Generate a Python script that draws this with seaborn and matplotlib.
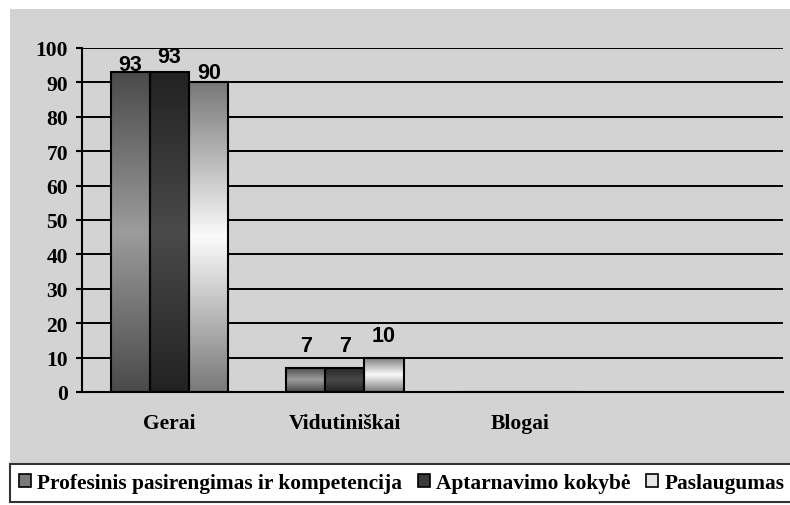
import numpy as np
import pandas as pd
import matplotlib
matplotlib.use("Agg")
import matplotlib.pyplot as plt
import seaborn as sns
from matplotlib.colors import LinearSegmentedColormap
from matplotlib.patches import Rectangle, Patch

categories = ["Gerai", "Vidutiniškai", "Blogai"]
series = ["Profesinis pasirengimas ir kompetencija", "Aptarnavimo kokybė", "Paslaugumas"]
profesinis = [93, 7, 0]
aptarnavimas = [93, 7, 0]
paslaugumas = [90, 10, 0]
y_ticks = list(range(0, 101, 10))

# gradient colours per series: (edge, centre)
grad_colors = [("#4a4a4a", "#9c9c9c"), ("#222222", "#4a4a4a"), ("#787878", "#fbfbfb")]
legend_colors = ["#7a7a7a", "#3a3a3a", "#e6e6e6"]
# label baseline offsets above bar tops in pixels, per series / per category
label_offsets = [[2, 17, 0], [10, 17, 0], [4, 17, 0]]

df = pd.DataFrame({
    "category": categories * 3,
    "series": [s for s in series for _ in categories],
    "value": profesinis + aptarnavimas + paslaugumas,
})

sns.set_style("white")
plt.rcParams["font.family"] = ["Liberation Serif", "DejaVu Serif"]
plt.rcParams["font.weight"] = "bold"
plt.rcParams["text.color"] = "black"
plt.rcParams["xtick.color"] = "black"
plt.rcParams["ytick.color"] = "black"

GRAY = "#d3d3d3"
fig = plt.figure(figsize=(7.9, 5.06), dpi=100, facecolor="white")
fig.patches.append(Rectangle((10 / 790, 42 / 506), 780 / 790, 454 / 506,
                             transform=fig.transFigure, facecolor=GRAY,
                             edgecolor="none", zorder=-5))
ax = fig.add_axes([82 / 790, 1 - 393 / 506, 701 / 790, 344 / 506])
ax.set_facecolor(GRAY)

sns.barplot(data=df, x="category", y="value", hue="series", order=categories,
            hue_order=series, width=0.67, edgecolor="black", linewidth=1.5,
            legend=False, ax=ax)

for i, cont in enumerate(ax.containers):
    edge, centre = grad_colors[i]
    cmap = LinearSegmentedColormap.from_list(f"g{i}", [edge, centre, edge])
    grad = np.linspace(0, 1, 256).reshape(-1, 1)
    for j, bar in enumerate(cont):
        bar.set_zorder(3)
        h = bar.get_height()
        if h <= 0:
            bar.set_facecolor("none")
            continue
        x0, y0, w = bar.get_x(), bar.get_y(), bar.get_width()
        im = ax.imshow(grad, cmap=cmap, extent=[x0, x0 + w, y0, y0 + h],
                       aspect="auto", origin="lower", zorder=2,
                       interpolation="bilinear")
        im.set_clip_path(bar)
        bar.set_facecolor("none")
        ax.annotate(f"{h:g}", (x0 + w / 2, y0 + h), xytext=(0, label_offsets[i][j] * 0.72),
                    textcoords="offset points", ha="center", va="baseline",
                    fontsize=15.5, fontweight="bold", family="Liberation Sans",
                    color="black")

ax.set_xlim(-0.5, 3.5)
ax.set_ylim(0, 100)
ax.set_yticks(y_ticks)
ax.set_yticklabels([str(t) for t in y_ticks], fontsize=15.5, fontweight="bold")
ax.set_xticks(range(len(categories)))
ax.set_xticklabels(categories, fontsize=15.5, fontweight="bold")
ax.set_xticks(np.arange(-0.5, 4, 1), minor=True)
ax.tick_params(axis="x", which="major", length=0, pad=15)
ax.tick_params(axis="x", which="minor", length=4, width=1.5, color="black", direction="out")
ax.tick_params(axis="y", length=4, width=1.5, color="black", direction="out", pad=6, left=True)
ax.set_xlabel("")
ax.set_ylabel("")

ax.set_axisbelow(True)
ax.grid(axis="y", color="black", linewidth=1.4)
ax.grid(axis="x", visible=False)
for side in ["top", "right"]:
    ax.spines[side].set_visible(False)
for side in ["left", "bottom"]:
    ax.spines[side].set_color("black")
    ax.spines[side].set_linewidth(1.5)
    ax.spines[side].set_zorder(4)

handles = [Patch(facecolor=c, edgecolor="black", linewidth=1.2) for c in legend_colors]
leg = fig.legend(handles, series, loc="lower left", bbox_to_anchor=(10 / 790, 3 / 506),
                 ncol=3, frameon=True, fancybox=False, handlelength=0.56, handleheight=0.56,
                 handletextpad=0.28, columnspacing=0.75, borderpad=0.42, borderaxespad=0,
                 prop={"family": "Liberation Serif", "weight": "bold", "size": 15.4})
leg.get_frame().set_edgecolor("black")
leg.get_frame().set_linewidth(1.5)
leg.get_frame().set_facecolor("white")

fig.savefig("out.png", dpi=100, facecolor="white")
